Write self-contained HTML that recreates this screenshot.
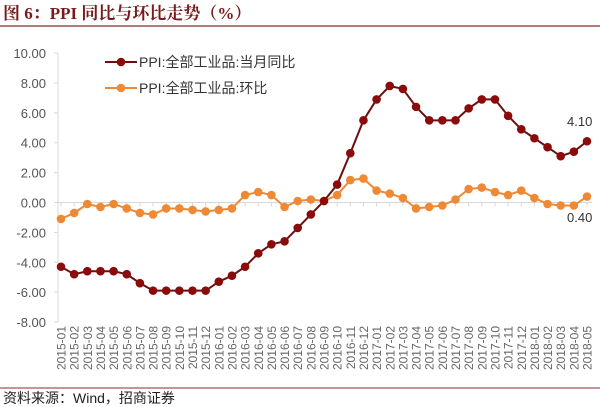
<!DOCTYPE html>
<html><head><meta charset="utf-8"><style>
body{margin:0;background:#fff;width:600px;height:407px;overflow:hidden}
svg{display:block}
text{font-family:"Liberation Sans","Noto Sans CJK SC",sans-serif}
</style></head><body>
<svg id="s" width="600" height="407" xmlns="http://www.w3.org/2000/svg">
<text x="3" y="19" font-size="17" font-weight="bold" fill="#7a1a1a" style="font-family:'Liberation Serif','Noto Serif CJK SC',serif">图 6：PPI 同比与环比走势（%）</text>
<line x1="0" y1="26" x2="600" y2="26" stroke="#8b2a2a" stroke-width="1.2"/>
<line x1="0" y1="388" x2="600" y2="388" stroke="#8b2a2a" stroke-width="1"/>
<text x="3" y="403" font-size="14" fill="#222">资料来源：Wind，招商证券</text>
<g id="g"></g>
</svg>
<script>
var g=document.getElementById('g'),h='';
function Y(v){return 202.5-v*14.94}
var x0=61,dx=13.15;
h+='<line x1="58" y1="53" x2="58" y2="322" stroke="#d8d8d8"/>';
for(var v=10;v>=-8;v-=2){var y=Y(v);h+='<line x1="54" y1="'+y+'" x2="58" y2="'+y+'" stroke="#d8d8d8"/><text x="46" y="'+(y+5)+'" font-size="13" fill="#555" text-anchor="end">'+v.toFixed(2)+'</text>';}
h+='<line x1="58" y1="'+Y(0)+'" x2="592" y2="'+Y(0)+'" stroke="#d8d8d8"/>';
var lab=[];for(var yr=2015;yr<=2018;yr++)for(var m=1;m<=12;m++){if(yr==2018&&m>5)break;lab.push(yr+'-'+(m<10?'0':'')+m);}
lab.forEach(function(l,i){var x=x0+i*dx;h+='<line x1="'+x+'" y1="'+Y(0)+'" x2="'+x+'" y2="'+(Y(0)+4)+'" stroke="#d8d8d8"/><text transform="translate('+(x+4.5)+',326) rotate(-90)" font-size="12" fill="#666" text-anchor="end">'+l+'</text>';});
var a=[-4.3,-4.8,-4.6,-4.6,-4.6,-4.8,-5.4,-5.9,-5.9,-5.9,-5.9,-5.9,-5.3,-4.9,-4.3,-3.4,-2.8,-2.6,-1.7,-0.8,0.1,1.2,3.3,5.5,6.9,7.8,7.6,6.4,5.5,5.5,5.5,6.3,6.9,6.9,5.8,4.9,4.3,3.7,3.1,3.4,4.1];
var b=[-1.1,-0.7,-0.1,-0.3,-0.1,-0.4,-0.7,-0.8,-0.4,-0.4,-0.5,-0.6,-0.5,-0.4,0.5,0.7,0.5,-0.3,0.1,0.2,0.1,0.5,1.5,1.6,0.8,0.6,0.3,-0.4,-0.3,-0.2,0.2,0.9,1.0,0.7,0.5,0.8,0.3,-0.1,-0.2,-0.2,0.4];
function ser(d,c,lc){var p=d.map(function(v,i){return (x0+i*dx)+','+Y(v)}).join(' ');h+='<polyline points="'+p+'" fill="none" stroke="'+lc+'" stroke-width="2"/>';d.forEach(function(v,i){h+='<circle cx="'+(x0+i*dx)+'" cy="'+Y(v)+'" r="4.3" fill="'+c+'"/>';});}
ser(b,'#ee8a35','#ee8a35');ser(a,'#8b0a0a','#6b1010');
h+='<text x="567" y="126" font-size="13" fill="#333">4.10</text><text x="567" y="222" font-size="13" fill="#333">0.40</text>';
h+='<line x1="105" y1="62" x2="137" y2="62" stroke="#6b1010" stroke-width="2"/><circle cx="121" cy="62" r="4.3" fill="#8b0a0a"/><text x="139" y="67" font-size="14" fill="#333">PPI:全部工业品:当月同比</text>';
h+='<line x1="105" y1="88" x2="137" y2="88" stroke="#ee8a35" stroke-width="2"/><circle cx="121" cy="88" r="4.3" fill="#ee8a35"/><text x="139" y="93" font-size="14" fill="#333">PPI:全部工业品:环比</text>';
g.innerHTML=h;
</script>
</body></html>
